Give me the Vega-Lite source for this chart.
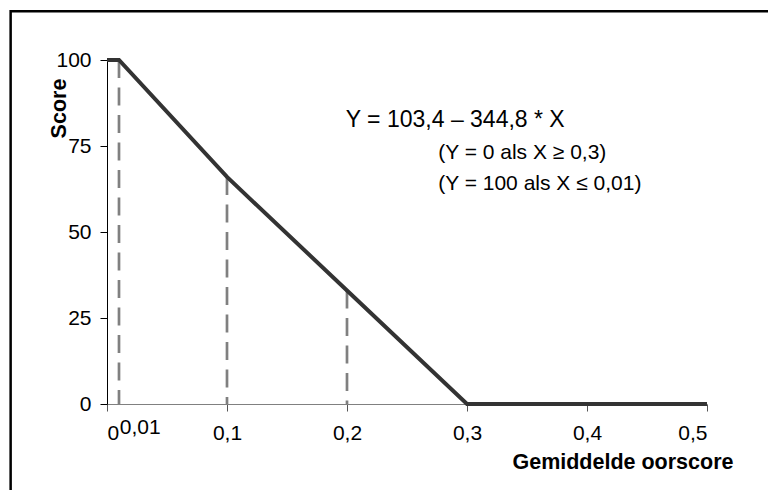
{
  "$schema": "https://vega.github.io/schema/vega-lite/v6.json",
  "width": 600,
  "height": 344,
  "autosize": {"type": "none"},
  "padding": {"left": 107, "top": 60, "right": 61, "bottom": 86},
  "background": "white",
  "config": {
    "view": {"stroke": null},
    "font": "Liberation Sans",
    "axis": {"grid": false, "labelFont": "Liberation Sans", "titleFont": "Liberation Sans", "labelColor": "black", "titleColor": "black"}
  },
  "datasets": {
    "curve": [
      {"x": 0, "y": 100},
      {"x": 0.01, "y": 100},
      {"x": 0.1, "y": 66},
      {"x": 0.2, "y": 33},
      {"x": 0.3, "y": 0},
      {"x": 0.5, "y": 0}
    ],
    "drops": [
      {"x": 0.01, "y": 100},
      {"x": 0.1, "y": 66},
      {"x": 0.2, "y": 33}
    ],
    "frame": [
      {"x": -0.0803, "x2": 0.58, "y": 114.2, "y2": -30}
    ],
    "notes": [
      {"x": 0.199, "y": 80.6, "label": "Y = 103,4 – 344,8 * X", "size": 23},
      {"x": 0.276, "y": 71.2, "label": "(Y = 0 als X ≥ 0,3)", "size": 21},
      {"x": 0.276, "y": 62.2, "label": "(Y = 100 als X ≤ 0,01)", "size": 21},
      {"x": 0.0106, "y": -8.6, "label": "0,01", "size": 21}
    ]
  },
  "layer": [
    {
      "data": {"name": "frame"},
      "mark": {"type": "rect", "fill": null, "stroke": "black", "strokeWidth": 2.5, "clip": false},
      "encoding": {
        "x": {"field": "x", "type": "quantitative", "scale": {"domain": [0, 0.5], "nice": false}},
        "x2": {"field": "x2"},
        "y": {"field": "y", "type": "quantitative", "scale": {"domain": [0, 100], "nice": false}},
        "y2": {"field": "y2"}
      }
    },
    {
      "data": {"name": "drops"},
      "mark": {"type": "rule", "color": "#808080", "strokeWidth": 2.7, "strokeDash": [18, 9.5]},
      "encoding": {
        "x": {"field": "x", "type": "quantitative"},
        "y": {"field": "y", "type": "quantitative"},
        "y2": {"datum": 0}
      }
    },
    {
      "data": {"name": "curve"},
      "mark": {"type": "line", "color": "#333333", "strokeWidth": 4},
      "encoding": {
        "x": {
          "field": "x", "type": "quantitative",
          "scale": {"domain": [0, 0.5], "nice": false},
          "axis": {
            "values": [0, 0.1, 0.2, 0.3, 0.4, 0.5],
            "labelExpr": "replace(format(datum.value, '.1~f'), '.', ',')",
            "labelFontSize": 21,
            "labelPadding": 11,
            "tickSize": 7,
            "tickColor": "#555555",
            "domainColor": "#808080",
            "domainWidth": 1.2,
            "title": "Gemiddelde oorscore",
            "titleFontSize": 21.5,
            "titleFontWeight": "bold",
            "titleAlign": "right",
            "titleAnchor": null,
            "titleBaseline": "alphabetic",
            "titleX": 626,
            "titleY": 64
          }
        },
        "y": {
          "field": "y", "type": "quantitative",
          "scale": {"domain": [0, 100], "nice": false},
          "axis": {
            "values": [0, 25, 50, 75, 100],
            "labelFontSize": 21,
            "labelPadding": 9,
            "tickSize": 7,
            "tickColor": "black",
            "domainColor": "black",
            "title": "Score",
            "titleFontSize": 21.5,
            "titleFontWeight": "bold",
            "titleAngle": -90,
            "titleAlign": "center",
            "titleBaseline": "alphabetic",
            "titleX": -42,
            "titleY": 48
          }
        }
      }
    },
    {
      "data": {"name": "notes"},
      "mark": {"type": "text", "align": "left", "baseline": "alphabetic", "color": "black", "font": "Liberation Sans"},
      "encoding": {
        "x": {"field": "x", "type": "quantitative"},
        "y": {"field": "y", "type": "quantitative"},
        "text": {"field": "label"},
        "size": {"field": "size", "type": "quantitative", "scale": null, "legend": null}
      }
    }
  ]
}
